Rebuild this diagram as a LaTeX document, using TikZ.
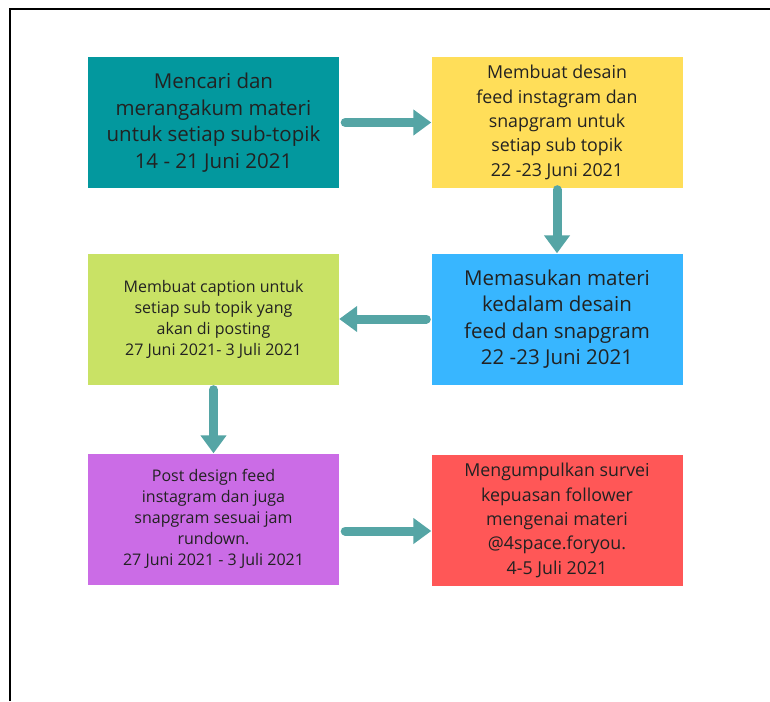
\documentclass[tikz,border=0pt]{standalone}
\usepackage{fontspec}
\setmainfont{Open Sans}
\usetikzlibrary{arrows.meta}
\definecolor{tealbox}{HTML}{03989E}
\definecolor{yellowbox}{HTML}{FFDE59}
\definecolor{greenbox}{HTML}{C9E265}
\definecolor{bluebox}{HTML}{38B6FF}
\definecolor{purplebox}{HTML}{CB6CE6}
\definecolor{redbox}{HTML}{FF5757}
\definecolor{arrowcol}{HTML}{55A5A5}
\definecolor{textcol}{HTML}{222222}

\begin{document}
\begin{tikzpicture}[x=1pt, y=-1pt,
	box/.style={minimum width=251pt, minimum height=131pt, inner sep=0pt,
		align=center, text=textcol},
	big/.style={font=\fontsize{20.5}{26.5}\selectfont},
	mid/.style={font=\fontsize{17.8}{24.3}\selectfont},
	small/.style={font=\fontsize{16}{21}\selectfont},
	flow/.style={draw=arrowcol, line width=9pt, line cap=round,
		-{Triangle[length=18pt, width=25pt]}}]
	\useasboundingbox (0,0) rectangle (770,701);
	% frame, cut off on the right and at the bottom
	\draw[line width=2pt] (10,701) -- (10,9) -- (770,9);
	% the six steps
	\node[box, big, fill=tealbox] (cari) at (213.5,122.5)
		{Mencari dan\\merangakum materi\\untuk setiap sub-topik\\14 - 21 Juni 2021};
	\node[box, mid, fill=yellowbox] (desain) at (557,122.5)
		{Membuat desain\\feed instagram dan\\snapgram untuk\\setiap sub topik\\22 -23 Juni 2021};
	\node[box, big, fill=bluebox] (masuk) at (557,319)
		{Memasukan materi\\kedalam desain\\feed dan snapgram\\22 -23 Juni 2021};
	\node[box, small, fill=greenbox] (caption) at (213.5,319)
		{Membuat caption untuk\\setiap sub topik yang\\akan di posting\\27 Juni 2021- 3 Juli 2021};
	\node[box, small, fill=purplebox] (post) at (213.5,519)
		{Post design feed\\instagram dan juga\\snapgram sesuai jam\\rundown.\\27 Juni 2021 - 3 Juli 2021};
	\node[box, mid, fill=redbox] (survei) at (557,520.5)
		{Mengumpulkan survei\\kepuasan follower\\mengenai materi\\@4space.foryou.\\4-5 Juli 2021};
	% arrows between the steps
	\draw[flow] ([xshift=6pt]cari.east) -- (desain.west);
	\draw[flow] ([yshift=-1.5pt]desain.south) -- (masuk.north);
	\draw[flow] ([xshift=-5pt]masuk.west) -- (caption.east);
	\draw[flow] ([yshift=-5pt]caption.south) -- (post.north);
	\draw[flow] ([xshift=6pt,yshift=-12pt]post.east) -- ([yshift=-10.5pt]survei.west);
\end{tikzpicture}
\end{document}
